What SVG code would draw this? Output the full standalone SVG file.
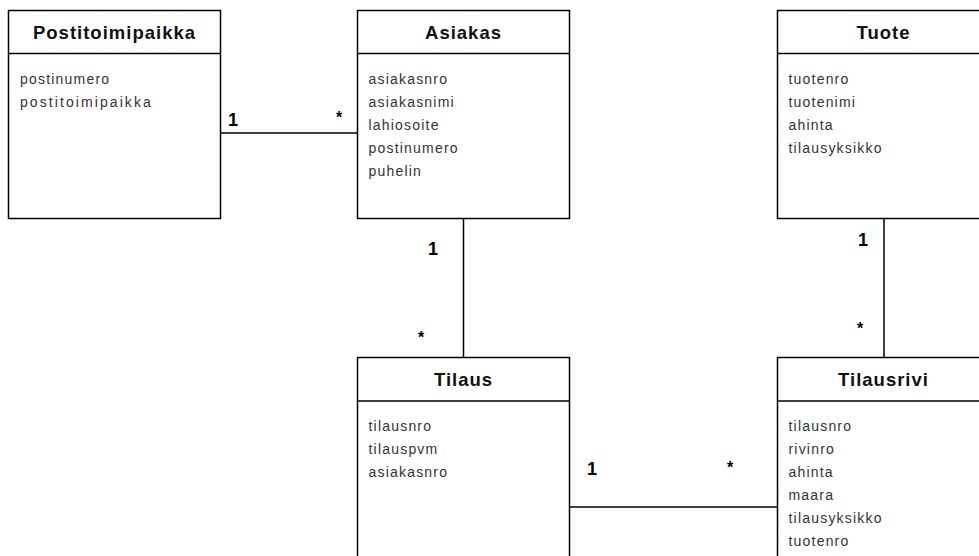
<svg xmlns="http://www.w3.org/2000/svg" width="979" height="556" viewBox="0 0 979 556">
<style>
.box{fill:#fff;stroke:#000;stroke-width:1.5}
.sep{stroke:#000;stroke-width:1.5}
.hdr{font-family:"Liberation Sans",Arial,sans-serif;font-weight:bold;font-size:18.5px;letter-spacing:1px;fill:#111;text-anchor:middle}
.att{font-family:"Liberation Sans",Arial,sans-serif;font-size:14px;letter-spacing:1.2px;fill:#333}
.conn line{stroke:#000;stroke-width:1.5}
.one{font-family:"Liberation Sans",Arial,sans-serif;font-weight:bold;font-size:18px;fill:#000}
.many{font-family:"Liberation Sans",Arial,sans-serif;font-weight:bold;font-size:16px;fill:#000}
</style>
<rect width="979" height="556" fill="#fff"/>
<g id="connectors" class="conn">
<line x1="221" y1="133" x2="357.5" y2="133"/>
<line x1="463.5" y1="218.5" x2="463.5" y2="357.5"/>
<line x1="884" y1="218.5" x2="884" y2="357.5"/>
<line x1="569.5" y1="507" x2="777.5" y2="507"/>
<text class="one" x="228" y="126">1</text>
<text class="many" x="336" y="123">*</text>
<text class="one" x="428" y="255">1</text>
<text class="many" x="418" y="343">*</text>
<text class="one" x="858" y="246">1</text>
<text class="many" x="857" y="334">*</text>
<text class="one" x="587" y="475">1</text>
<text class="many" x="727" y="473">*</text>
</g>
<g id="postitoimipaikka">
<rect class="box" x="8.5" y="10.5" width="212" height="208"/>
<line class="sep" x1="8.5" y1="53.5" x2="220.5" y2="53.5"/>
<text class="hdr" x="114.5" y="38.5">Postitoimipaikka</text>
<text class="att" x="20" y="84">postinumero</text>
<text class="att" x="20" y="107" textLength="132" lengthAdjust="spacing">postitoimipaikka</text>
</g>
<g id="asiakas">
<rect class="box" x="357.5" y="10.5" width="212" height="208"/>
<line class="sep" x1="357.5" y1="53.5" x2="569.5" y2="53.5"/>
<text class="hdr" x="463.5" y="38.5">Asiakas</text>
<text class="att" x="368.5" y="84">asiakasnro</text>
<text class="att" x="368.5" y="107">asiakasnimi</text>
<text class="att" x="368.5" y="130">lahiosoite</text>
<text class="att" x="368.5" y="153">postinumero</text>
<text class="att" x="368.5" y="176">puhelin</text>
</g>
<g id="tuote">
<rect class="box" x="777.5" y="10.5" width="212" height="208"/>
<line class="sep" x1="777.5" y1="53.5" x2="989.5" y2="53.5"/>
<text class="hdr" x="883.5" y="38.5">Tuote</text>
<text class="att" x="788.5" y="84">tuotenro</text>
<text class="att" x="788.5" y="107">tuotenimi</text>
<text class="att" x="788.5" y="130">ahinta</text>
<text class="att" x="788.5" y="153">tilausyksikko</text>
</g>
<g id="tilaus">
<rect class="box" x="357.5" y="357.5" width="212" height="208"/>
<line class="sep" x1="357.5" y1="401" x2="569.5" y2="401"/>
<text class="hdr" x="463.5" y="386">Tilaus</text>
<text class="att" x="368.5" y="431">tilausnro</text>
<text class="att" x="368.5" y="454">tilauspvm</text>
<text class="att" x="368.5" y="477">asiakasnro</text>
</g>
<g id="tilausrivi">
<rect class="box" x="777.5" y="357.5" width="212" height="208"/>
<line class="sep" x1="777.5" y1="401" x2="989.5" y2="401"/>
<text class="hdr" x="883.5" y="386">Tilausrivi</text>
<text class="att" x="788.5" y="431">tilausnro</text>
<text class="att" x="788.5" y="454">rivinro</text>
<text class="att" x="788.5" y="477">ahinta</text>
<text class="att" x="788.5" y="500">maara</text>
<text class="att" x="788.5" y="523">tilausyksikko</text>
<text class="att" x="788.5" y="546">tuotenro</text>
</g>
</svg>
